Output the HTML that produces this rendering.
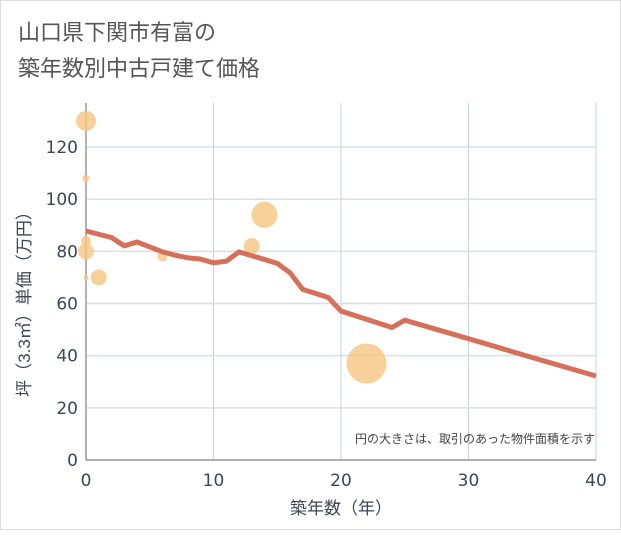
<!DOCTYPE html>
<html><head><meta charset="utf-8"><style>
body{margin:0;background:#fff;}
svg text{font-family:"Liberation Sans","Noto Sans CJK JP",sans-serif;}
svg text.tk{font-family:"DejaVu Sans","Liberation Sans",sans-serif;}
</style></head><body>
<svg width="621" height="530" xmlns="http://www.w3.org/2000/svg">
<rect x="0.5" y="0.5" width="620" height="529" fill="#fff" stroke="#ddd"/>
<text x="18" y="40" font-size="22" fill="#555">山口県下関市有富の</text>
<text x="18" y="76" font-size="22" fill="#555">築年数別中古戸建て価格</text>
<g id="grid"></g>
<g id="bubbles"></g>
<g id="line"></g>
<g id="ticks"></g>
<text x="595" y="443" font-size="12" fill="#444" text-anchor="end">円の大きさは、取引のあった物件面積を示す</text>
<text x="341" y="514" font-size="17" fill="#3d4654" text-anchor="middle">築年数（年）</text>
<text transform="translate(30,300) rotate(-90)" font-size="17" fill="#3d4654" text-anchor="middle">坪（3.3㎡）単価（万円）</text>
</svg>
<script>
const xTicks=[0,10,20,30,40];
const yTicks=[0,20,40,60,80,100,120];
const lineYears=[0,2,3,4,5,6,7,8,9,10,11,12,13,14,15,16,17,18,19,20,24,25,30,35,40];
const lineValues=[87.8,85.3,82.1,83.6,81.7,79.8,78.5,77.5,77,75.6,76.2,79.8,78.3,76.9,75.4,71.8,65.4,63.9,62.3,57.1,50.8,53.6,46.5,39.3,32.2];
const bubbleYears=[0,0,0,0,0,1,6,13,14,22];
const bubbleValues=[130,108,84,80,70,70,78,82,94,37];
const bubbleSizes=[10,3.5,5,8,2.5,8,5,8,13,20];
const NS="http://www.w3.org/2000/svg";
const X0=86,X1=596,Y0=460,Y1=147;
const xs=v=>X0+(X1-X0)*v/40;
const ys=v=>Y0-(Y0-Y1)*v/120;
function mk(t,a,p){const e=document.createElementNS(NS,t);for(const k in a)e.setAttribute(k,a[k]);p.appendChild(e);return e;}
const grid=document.getElementById('grid'),ticks=document.getElementById('ticks');
xTicks.forEach(v=>{
 const l=mk('line',{x1:xs(v),x2:xs(v),y1:103,y2:Y0,stroke:'#c5d0dc','stroke-width':1},grid);
 
 
 const t=mk('text',{x:xs(v),y:486,'font-size':17,fill:'#3d4654','text-anchor':'middle','class':'tk'},ticks);t.textContent=v;
 
 
});
yTicks.forEach(v=>{
 const l=mk('line',{x1:X0,x2:X1,y1:ys(v),y2:ys(v),stroke:'#d6e0ea','stroke-width':1.5},grid);
 
 
 const t=mk('text',{x:78,y:ys(v)+6,'font-size':17,fill:'#3d4654','text-anchor':'end','class':'tk'},ticks);t.textContent=v;
 
 
});
const ax=mk('line',{x1:X0,x2:X0,y1:103,y2:Y0,stroke:'#999','stroke-width':1.5},grid);


const bx=mk('line',{x1:X0,x2:X1,y1:Y0,y2:Y0,stroke:'#999','stroke-width':1.5},grid);


const bg=document.getElementById('bubbles');
bubbleYears.forEach((y,i)=>{
 const c=mk('circle',{cx:xs(y),cy:ys(bubbleValues[i]),r:bubbleSizes[i],fill:'#f5c680','fill-opacity':0.8},bg);
 
 
});
const pts=lineYears.map((y,i)=>xs(y)+','+ys(lineValues[i])).join(' ');
const pl=mk('polyline',{points:pts,fill:'none',stroke:'#d6705a','stroke-width':5,'stroke-linejoin':'round'},document.getElementById('line'));


</script>
</body></html>
